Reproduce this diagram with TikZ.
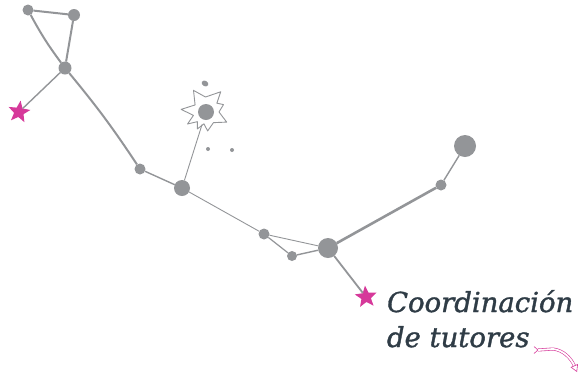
\documentclass[tikz,border=0pt]{standalone}
\usepackage{fontspec}
\newfontfamily\titlefont[FakeBold=1.3]{DejaVu Serif}
\usetikzlibrary{shapes.geometric,arrows.meta}
\definecolor{dotgrey}{HTML}{939598}
\definecolor{starpink}{HTML}{D6399A}
\definecolor{titleink}{HTML}{2F3C46}
\begin{document}
\begin{tikzpicture}[x=1pt,
y=-1pt,
every node/.style={
circle,
inner sep=0pt,
outer sep=0pt,
},
dot/.style={
fill=dotgrey,
},
pinkstar/.style={
shape=star,
star points=5,
star point ratio=2.3,
fill=starpink,
minimum size=23pt,
},
link/.style={dotgrey,line width=1.1pt},
heavylink/.style={dotgrey,line width=2pt},
title/.style={
rectangle,
anchor=base west,
text=titleink,
font=\titlefont\itshape\fontsize{27.5}{32}\selectfont,
}]
\useasboundingbox (0,0) rectangle (578,376);

%upper left group
\node[dot,minimum size=11pt]at(28,10)(a){};
\node[dot,minimum size=12pt]at(74,15)(b){};
\node[dot,minimum size=13pt]at(65,68)(c){};
\node[pinkstar,rotate=-8]at(19,112)(s1){};

%middle
\node[dot,minimum size=11pt]at(140,169)(d){};
\node[dot,minimum size=16pt]at(182,188)(e){};

%sun
\node[minimum size=26pt]at(206,112)(sun){};
\node[dot,minimum size=16pt]at(206,112)(core){};
\node[dot,ellipse,minimum width=7pt,minimum height=5.5pt,rotate=-30]at(205,83.5)(blob){};
\draw[dotgrey,line width=0.9pt,line join=round,shift={(206,112)}]
(26:23)--(55:13)--(85:19)--(100:12)--(117:19)--(132:13)--(147:22)--(165:13)
--(186:25)--(213:13)--(240:25)--(268:15)--(306:25)--(321:14)--(337:19)--(0:13)--cycle;
\node[dot,minimum size=4pt]at(208,149)(p1){};
\node[dot,minimum size=4pt]at(232,150)(p2){};

%lower right group
\node[dot,minimum size=11pt]at(264,234)(g){};
\node[dot,minimum size=10pt]at(292,256)(h){};
\node[dot,minimum size=20pt]at(328,248)(i){};
\node[dot,minimum size=11pt]at(441,185)(j){};
\node[dot,minimum size=22pt]at(465,146)(k){};
\node[pinkstar,rotate=5]at(366,297)(s2){};

%links
\draw[heavylink](a)--(b);
\draw[heavylink](a)to[bend right=4](c);
\draw[heavylink](b)--(c);
\draw[link,line width=1.4pt](c)--(s1);
\draw[heavylink](c)to[bend left=3](d);
\draw[link,line width=1.4pt](d)--(e);
\draw[link,line width=0.9pt](e)--(sun);
\draw[link,line width=0.9pt](e)--(g);
\draw[link,line width=0.9pt](g)--(i);
\draw[link,line width=1.2pt](g)--(h);
\draw[link,line width=1.4pt](h)--(i);
\draw[heavylink,line width=2.6pt](i)--(j);
\draw[link,line width=1.4pt](j)--(k);
\draw[link,line width=1.8pt](i)--(s2);

%title
\node[title]at(387,312)(t1){Coordinación};
\node[title]at(387,347)(t2){de tutores};

%arrow
\coordinate(tail)at(538,350);
\coordinate(bend)at(553,349);
\coordinate(tip)at(577,372);
\draw[starpink,line width=0.6pt,double distance=1.8pt,-{Triangle[open,length=7pt,width=8pt]}]
(tail)--(bend)..controls(563,350)and(571,358)..(tip);
\draw[starpink,line width=0.6pt](tail)--++(-4,-3.5)(tail)--++(-4,3.5);
\end{tikzpicture}
\end{document}
